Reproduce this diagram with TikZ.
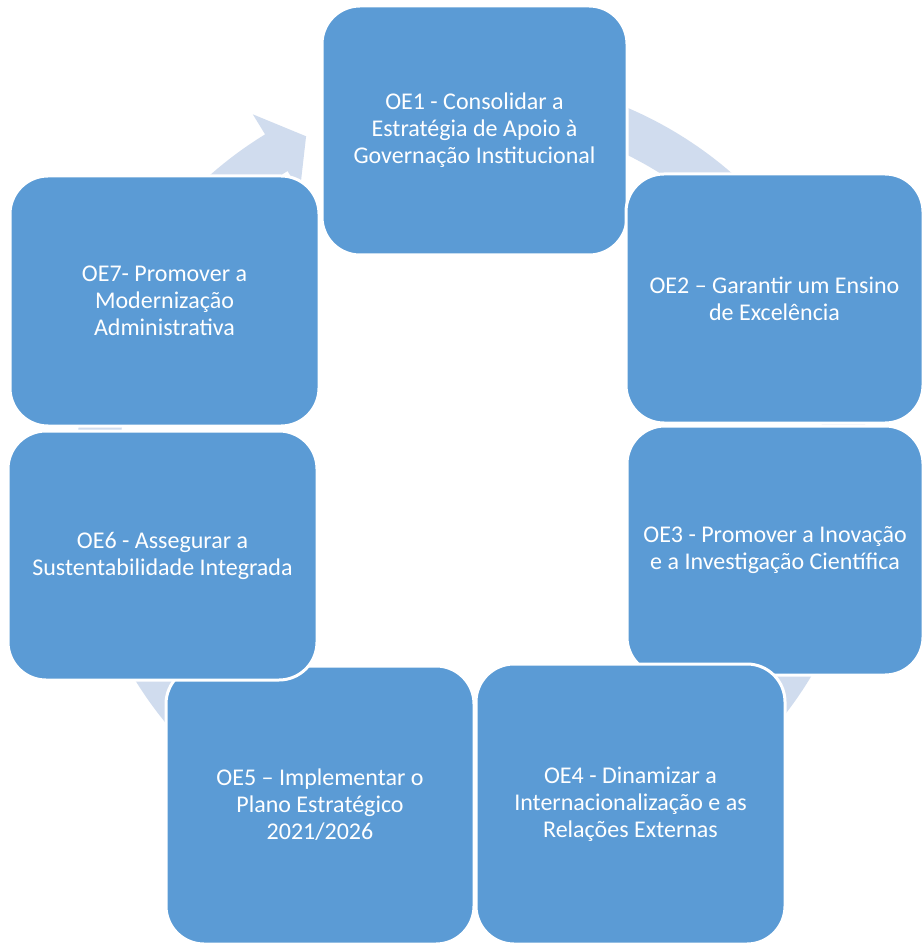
\documentclass[tikz,border=0pt]{standalone}
\usepackage{fontspec}
\setmainfont{Carlito}
\definecolor{boxblue}{RGB}{91,155,213}
\definecolor{ringblue}{RGB}{208,220,238}
\tikzset{
  oebox/.style={draw=white, line width=2.25pt, fill=boxblue, rounded corners=28.5pt,
    text=white, align=center, inner sep=0pt,
    font=\fontsize{18}{20.25}\selectfont},
  ringfill/.style={fill=ringblue}
}
\newcommand\cycarrow[2]{%
  \pgfmathsetmacro\arrh{#2-5.2}%
  \fill[ringfill] plot[domain=#1:\arrh, samples=60] (\x:396) -- (\arrh:419.5) -- (#2:374.5)
    -- (\arrh:329.5) -- plot[domain=\arrh:#1, samples=60] (\x:353) -- cycle;%
}
\begin{document}
\begin{tikzpicture}[x=0.75pt, y=-0.75pt]
\useasboundingbox[fill=white] (0,0) rectangle (923,944);
\coordinate (c) at (472,472);
\begin{scope}[shift={(c)}]
  \cycarrow{-165}{-116.3}
  \cycarrow{-80}{-36}
  \cycarrow{-30}{15}
  \cycarrow{20}{86}
  \cycarrow{92}{118}
  \cycarrow{125}{157}
  \cycarrow{160}{200}
\end{scope}
\node[oebox, minimum width=228.75pt, minimum height=186.75pt] (oe1) at (474.5,130.5)
  {OE1 - Consolidar a\\Estratégia de Apoio à\\Governação Institucional};
\node[oebox, minimum width=222.75pt, minimum height=186.75pt] (oe2) at (774.5,298.5)
  {OE2 – Garantir um Ensino\\de Excelência};
\node[oebox, minimum width=222pt, minimum height=186.75pt] (oe3) at (775,550.5)
  {OE3 - Promover a Inovação\\e a Investigação Científica};
\node[oebox, minimum width=231.75pt, minimum height=210pt] (oe4) at (630.5,804)
  {OE4 - Dinamizar a\\Internacionalização e as\\Relações Externas};
\node[oebox, minimum width=231pt, minimum height=208.5pt] (oe5) at (320,805)
  {OE5 – Implementar o\\Plano Estratégico\\2021/2026};
\node[oebox, minimum width=231.75pt, minimum height=186.75pt] (oe6) at (162.5,555.5)
  {OE6 - Assegurar a\\Sustentabilidade Integrada};
\node[oebox, minimum width=231.75pt, minimum height=187.5pt] (oe7) at (164.5,301)
  {OE7- Promover a\\Modernização\\Administrativa};
\end{tikzpicture}
\end{document}
